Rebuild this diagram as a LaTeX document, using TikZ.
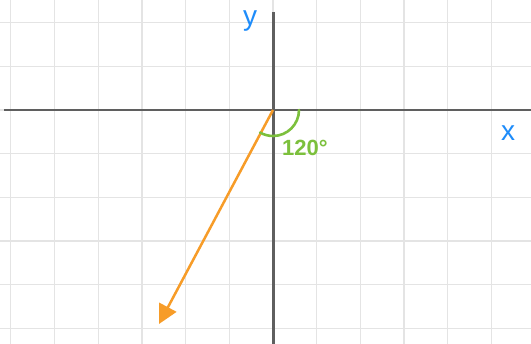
\documentclass[tikz,border=0pt]{standalone}
\usepackage{fontspec}
\setmainfont{Liberation Sans}
\usetikzlibrary{arrows.meta}
\definecolor{gridc}{RGB}{228,228,228}
\definecolor{axisc}{RGB}{95,95,95}
\definecolor{bluec}{RGB}{30,140,250}
\definecolor{greenc}{RGB}{124,192,60}
\definecolor{orangec}{RGB}{247,156,40}
\tikzset{
  gridline/.style={draw=gridc, line width=1.3pt},
  axisline/.style={draw=axisc, line width=2.6pt},
  axislabel/.style={text=bluec, inner sep=0pt, anchor=base, font=\fontsize{28}{28}\selectfont},
  vecline/.style={draw=orangec, line width=2.5pt, -{Triangle[length=19pt,width=19pt]}},
  anglearc/.style={draw=greenc, line width=2.6pt, line cap=round},
  anglelabel/.style={text=greenc, inner sep=0pt, font=\bfseries\fontsize{22}{22}\selectfont}
}
\begin{document}
\begin{tikzpicture}[x=1pt,y=-1pt]
\useasboundingbox[fill=white] (0,0) rectangle (531,344);
% grid
\foreach \k in {-6,...,5} {
  \draw[gridline] ({273+43.7*\k},0) -- ({273+43.7*\k},344);
}
\foreach \k in {-2,...,5} {
  \draw[gridline] (0,{110+43.7*\k}) -- (531,{110+43.7*\k});
}
% axes
\coordinate (O) at (273,110);
\coordinate (xl) at (4,110);
\coordinate (xr) at (531,110);
\coordinate (yt) at (273.5,12);
\coordinate (yb) at (273.5,344);
\draw[axisline] (xl) -- (xr);
\draw[axisline] (yt) -- (yb);
\node[axislabel] (ylab) at (250,26) {y};
\node[axislabel] (xlab) at (508,141) {x};
% vector
\coordinate (tip) at (159,324);
\draw[vecline] (O) -- (tip);
% angle
\draw[anglearc] (299,110) arc[start angle=0, end angle=120, radius=26];
\node[anglelabel] (ang) at (305,148) {120°};
\end{tikzpicture}
\end{document}
